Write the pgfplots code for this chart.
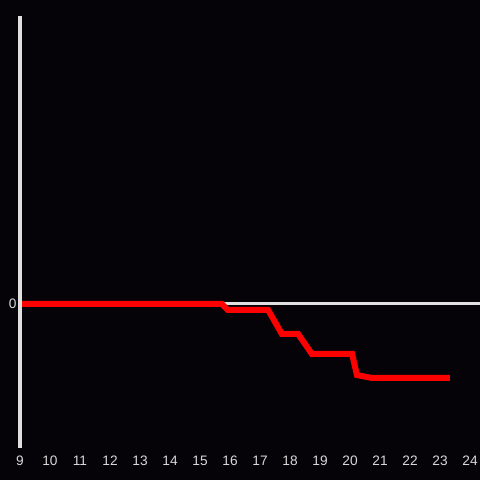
\documentclass[border=0pt]{standalone}
\usepackage{pgfplots}
\pgfplotsset{compat=1.18}
\usepackage{fontspec}
\setmainfont{Liberation Sans}
\definecolor{bgc}{HTML}{050308}
\definecolor{axc}{HTML}{E0E0E0}
\definecolor{lblc}{HTML}{D8D8D8}
\begin{document}
\begin{tikzpicture}
\useasboundingbox (0,0) rectangle (480bp,480bp);
\fill[bgc] (0,0) rectangle (480bp,480bp);
\begin{axis}[
  at={(20bp,32bp)}, anchor=south west,
  scale only axis, width=460bp, height=432bp,
  xmin=9, xmax=24.333, ymin=-144, ymax=288,
  axis line style={draw=none},
  major tick length=0pt,
  xtick={9,10,...,24}, ytick={0},
  /pgf/number format/assume math mode=true,
  tick label style={font=\fontsize{13.7bp}{16bp}\selectfont, text=lblc},
  xticklabel style={anchor=north, text height=10bp, text depth=0bp, inner sep=0pt, yshift=-7bp},
  clip=false,
]
\addplot[axc, line width=3bp] coordinates {(9,0) (24.333,0)};
\addplot[red, line width=6bp, line join=miter] coordinates {
(9,0) (15.733,0) (15.93,-6) (17.27,-6) (17.73,-30) (18.27,-30)
(18.73,-50) (20.07,-50) (20.23,-71) (20.73,-74) (23.33,-74)};
\draw[axc, line width=3bp] (axis cs:9,-144) -- (axis cs:9,288);
\end{axis}
\end{tikzpicture}
\end{document}
